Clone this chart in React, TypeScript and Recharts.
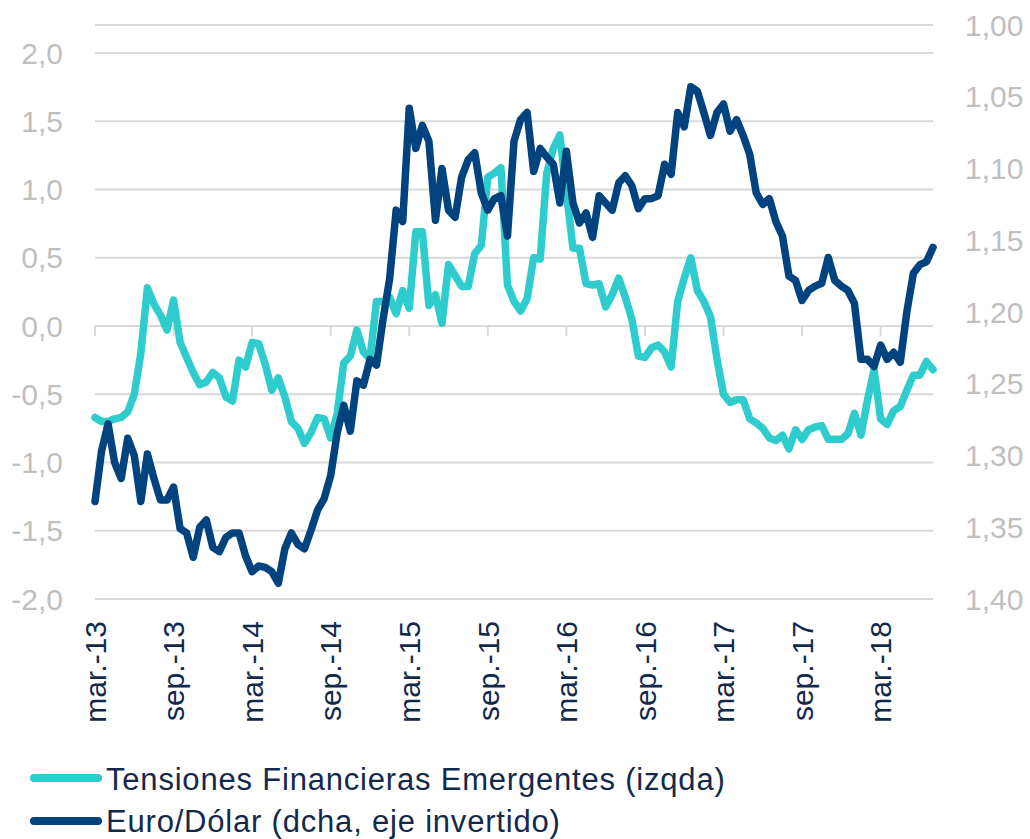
import React from 'react';
import {
  LineChart,
  Line,
  XAxis,
  YAxis,
  CartesianGrid,
  ReferenceLine,
} from 'recharts';

// half-month steps from mar-13
const STEP_MONTHS = 0.5;

const tensiones = [
  -0.67, -0.70, -0.70, -0.68, -0.67, -0.63, -0.50, -0.20, 0.28, 0.16, 0.08, -0.03,
  0.19, -0.12, -0.23, -0.34, -0.43, -0.41, -0.34, -0.38, -0.52, -0.55, -0.25, -0.30,
  -0.12, -0.13, -0.28, -0.47, -0.38, -0.52, -0.70, -0.75, -0.86, -0.78, -0.67, -0.68,
  -0.82, -0.64, -0.27, -0.22, -0.03, -0.19, -0.24, 0.18, 0.18, 0.21, 0.09, 0.26,
  0.13, 0.69, 0.69, 0.15, 0.23, 0.02, 0.45, 0.37, 0.29, 0.29, 0.53, 0.59,
  1.09, 1.12, 1.16, 0.30, 0.18, 0.11, 0.20, 0.50, 0.49, 1.12, 1.30, 1.40,
  0.98, 0.57, 0.57, 0.31, 0.30, 0.31, 0.14, 0.23, 0.35, 0.21, 0.05, -0.22,
  -0.23, -0.16, -0.14, -0.19, -0.30, 0.18, 0.35, 0.50, 0.26, 0.18, 0.07, -0.24,
  -0.50, -0.56, -0.54, -0.54, -0.68, -0.71, -0.75, -0.82, -0.84, -0.80, -0.90, -0.76,
  -0.83, -0.76, -0.74, -0.73, -0.83, -0.83, -0.83, -0.79, -0.64, -0.80, -0.54, -0.32,
  -0.68, -0.72, -0.62, -0.59, -0.47, -0.36, -0.36, -0.26, -0.32,
];

const euroDolar = [
  1.332, 1.297, 1.278, 1.305, 1.316, 1.288, 1.300, 1.332, 1.299, 1.316, 1.331, 1.331,
  1.322, 1.351, 1.354, 1.371, 1.350, 1.345, 1.364, 1.367, 1.357, 1.354, 1.354, 1.370,
  1.381, 1.377, 1.378, 1.381, 1.389, 1.365, 1.354, 1.362, 1.365, 1.352, 1.338, 1.330,
  1.314, 1.284, 1.265, 1.283, 1.248, 1.251, 1.233, 1.237, 1.205, 1.177, 1.129, 1.137,
  1.058, 1.086, 1.070, 1.081, 1.136, 1.100, 1.129, 1.134, 1.106, 1.094, 1.089, 1.117,
  1.129, 1.121, 1.119, 1.147, 1.081, 1.066, 1.061, 1.102, 1.086, 1.092, 1.097, 1.124,
  1.088, 1.124, 1.138, 1.131, 1.148, 1.119, 1.124, 1.129, 1.110, 1.105, 1.112, 1.128,
  1.121, 1.121, 1.119, 1.097, 1.104, 1.061, 1.071, 1.043, 1.046, 1.061, 1.077, 1.061,
  1.055, 1.074, 1.066, 1.077, 1.090, 1.117, 1.125, 1.121, 1.137, 1.147, 1.175, 1.178,
  1.192, 1.185, 1.182, 1.180, 1.162, 1.178, 1.182, 1.185, 1.194, 1.233, 1.233, 1.238,
  1.223, 1.233, 1.228, 1.235, 1.200, 1.173, 1.167, 1.165, 1.155,
];

const tickMonths = [0, 6, 12, 18, 24, 30, 36, 42, 48, 54, 60];
const tickLabels = ['mar.-13', 'sep.-13', 'mar.-14', 'sep.-14', 'mar.-15', 'sep.-15', 'mar.-16', 'sep.-16', 'mar.-17', 'sep.-17', 'mar.-18'];
const leftTicks = [-2, -1.5, -1, -0.5, 0, 0.5, 1, 1.5, 2];
const rightTicks = [1.0, 1.05, 1.1, 1.15, 1.2, 1.25, 1.3, 1.35, 1.4];

const data = tensiones.map((v, i) => ({ m: i * STEP_MONTHS, tens: v, eur: euroDolar[i] }));

const FONT = '"Liberation Sans", Arial, sans-serif';
const TEAL = '#2ecccc';
const NAVY = '#00437f';
const TEXT = '#13294b';

const comma = (v: number, d: number) => v.toFixed(d).replace('.', ',');

const XTick = (props: any) => {
  const { x, y, payload } = props;
  const idx = tickMonths.indexOf(payload.value);
  return (
    <text
      x={x}
      y={y}
      transform={`rotate(-90, ${x}, ${y})`}
      textAnchor="end"
      dy="0.36em"
      fill={TEXT}
      fontSize={30}
      fontFamily={FONT}
    >
      {tickLabels[idx]}
    </text>
  );
};

export default function App() {
  return (
    <div style={{ position: 'absolute', left: 0, top: 0, width: 1030, height: 839, background: '#fff' }}>
      <LineChart width={1030} height={839} data={data} margin={{ top: 25, right: 0, bottom: 139, left: 0 }}>
        <CartesianGrid yAxisId="left" vertical={false} stroke="#d9d9d9" strokeWidth={2} />
        <XAxis
          dataKey="m"
          type="number"
          domain={[0, 64]}
          ticks={tickMonths}
          interval={0}
          axisLine={false}
          tickLine={false}
          tickSize={0}
          tickMargin={22}
          height={101}
          tick={<XTick />}
        />
        <YAxis
          yAxisId="left"
          domain={[-2, 2.205]}
          ticks={leftTicks}
          interval={0}
          allowDataOverflow
          axisLine={false}
          tickLine={false}
          tickSize={0}
          tickMargin={32}
          width={95}
          tickFormatter={(v: number) => comma(v, 1)}
          tick={{ fill: '#bfbfbf', fontSize: 30, fontFamily: FONT }}
        />
        <YAxis
          yAxisId="right"
          orientation="right"
          reversed
          domain={[1.0, 1.4]}
          ticks={rightTicks}
          interval={0}
          allowDataOverflow
          axisLine={false}
          tickLine={false}
          tickSize={0}
          tickMargin={32}
          width={97}
          tickFormatter={(v: number) => comma(v, 2)}
          tick={{ fill: '#bfbfbf', fontSize: 30, fontFamily: FONT, textAnchor: 'start' }}
        />
        {tickMonths.map((t) => (
          <ReferenceLine
            key={t}
            yAxisId="left"
            segment={[{ x: t, y: 0 }, { x: t, y: -0.075 }]}
            stroke="#d9d9d9"
            strokeWidth={2}
          />
        ))}
        <Line
          yAxisId="left"
          dataKey="tens"
          type="linear"
          stroke={TEAL}
          strokeWidth={7.5}
          strokeLinejoin="round"
          strokeLinecap="round"
          dot={false}
          activeDot={false}
          isAnimationActive={false}
        />
        <Line
          yAxisId="right"
          dataKey="eur"
          type="linear"
          stroke={NAVY}
          strokeWidth={7.5}
          strokeLinejoin="round"
          strokeLinecap="round"
          dot={false}
          activeDot={false}
          isAnimationActive={false}
        />
      </LineChart>
      <svg width={1030} height={99} style={{ position: 'absolute', left: 0, top: 740 }}>
        <line x1={34} x2={98} y1={38} y2={38} stroke={TEAL} strokeWidth={8} strokeLinecap="round" />
        <text x={106} y={50} fill={TEXT} fontSize={31} letterSpacing={0.8} fontFamily={FONT}>
          Tensiones Financieras Emergentes (izqda)
        </text>
        <line x1={34} x2={98} y1={81} y2={81} stroke={NAVY} strokeWidth={8} strokeLinecap="round" />
        <text x={106} y={92} fill={TEXT} fontSize={31} letterSpacing={0.8} fontFamily={FONT}>
          Euro/Dólar (dcha, eje invertido)
        </text>
      </svg>
    </div>
  );
}
